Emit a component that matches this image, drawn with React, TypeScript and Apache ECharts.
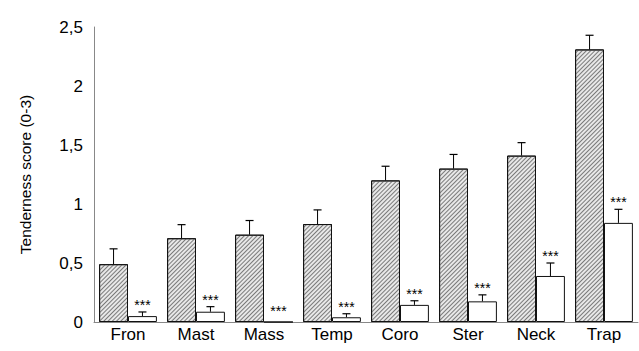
import React, { useEffect, useRef } from 'react';
import * as echarts from 'echarts';

const categories = ['Fron', 'Mast', 'Mass', 'Temp', 'Coro', 'Ster', 'Neck', 'Trap'];
const hatchedValues = [0.49, 0.71, 0.74, 0.83, 1.2, 1.3, 1.41, 2.31];
const hatchedErrors = [0.13, 0.115, 0.12, 0.12, 0.12, 0.12, 0.11, 0.12];
const whiteValues = [0.05, 0.087, 0, 0.04, 0.145, 0.175, 0.39, 0.84];
const whiteErrors = [0.035, 0.043, 0, 0.03, 0.035, 0.055, 0.11, 0.115];
const significance = ['***', '***', '***', '***', '***', '***', '***', '***'];
const yAxisTitle = 'Tenderness score (0-3)';

const CAT_GAP = 0.15;
const FONT = '"Liberation Sans", Arial, sans-serif';

function errorSeries(values: number[], errors: number[], side: number, withStars: boolean) {
  return {
    type: 'custom',
    z: 5,
    data: values.map((v, i) => [i, v, v + errors[i]]),
    renderItem: (params: any, api: any) => {
      const idx = api.value(0);
      const v = api.value(1);
      const top = api.value(2);
      const band = api.size([1, 0])[0];
      const bw = (band * (1 - CAT_GAP)) / 2;
      const base = api.coord([idx, v]);
      const topPt = api.coord([idx, top]);
      const x = base[0] + (side * bw) / 2;
      const children: any[] = [];
      if (top > v) {
        children.push({
          type: 'line',
          shape: { x1: x, y1: base[1], x2: x, y2: topPt[1] },
          style: { stroke: '#000', lineWidth: 1 },
        });
        children.push({
          type: 'line',
          shape: { x1: x - 4, y1: topPt[1], x2: x + 4, y2: topPt[1] },
          style: { stroke: '#000', lineWidth: 1.2 },
        });
      }
      const star = withStars ? significance[idx] : '';
      if (star) {
        children.push({
          type: 'text',
          x: x,
          y: topPt[1] - (top > v ? 7 : 11),
          style: {
            text: star,
            fill: '#000',
            font: '14px ' + FONT,
            align: 'center',
            verticalAlign: 'middle',
          },
        });
      }
      return { type: 'group', children };
    },
  };
}

export default function App() {
  const ref = useRef<HTMLDivElement>(null);
  useEffect(() => {
    if (!ref.current) return;
    const chart = echarts.init(ref.current, undefined, { renderer: 'svg' });
    chart.setOption({
      animation: false,
      backgroundColor: '#fff',
      textStyle: { fontFamily: FONT },
      grid: { left: 94, right: 1, top: 27, bottom: 29 },
      xAxis: {
        type: 'category',
        data: categories,
        axisLine: { lineStyle: { color: '#888', width: 1 } },
        axisTick: { show: false },
        axisLabel: { color: '#000', fontSize: 17, margin: 4 },
      },
      yAxis: {
        type: 'value',
        min: 0,
        max: 2.5,
        interval: 0.5,
        name: yAxisTitle,
        nameLocation: 'middle',
        nameGap: 61,
        nameTextStyle: { color: '#000', fontSize: 15.5 },
        axisLine: { show: true, lineStyle: { color: '#888', width: 1 } },
        axisTick: { show: false },
        splitLine: { show: false },
        axisLabel: {
          color: '#000',
          fontSize: 17,
          margin: 11,
          formatter: (v: number) => String(v).replace('.', ','),
        },
      },
      series: [
        {
          type: 'bar',
          data: hatchedValues,
          barGap: '0%',
          barCategoryGap: CAT_GAP * 100 + '%',
          itemStyle: {
            color: '#e8e8e8',
            borderColor: '#111',
            borderWidth: 1,
            decal: {
              symbol: 'rect',
              symbolSize: 1,
              dashArrayX: [1, 0],
              dashArrayY: [1, 2],
              rotation: -Math.PI / 4,
              color: '#7a7a7a',
            },
          },
        },
        {
          type: 'bar',
          data: whiteValues,
          itemStyle: { color: '#fff', borderColor: '#111', borderWidth: 1 },
        },
        errorSeries(hatchedValues, hatchedErrors, -1, false),
        errorSeries(whiteValues, whiteErrors, 1, true),
      ],
    });
    return () => chart.dispose();
  }, []);
  return (
    <div
      ref={ref}
      style={{ position: 'fixed', left: 0, top: 0, width: 639, height: 351, background: '#fff' }}
    />
  );
}
